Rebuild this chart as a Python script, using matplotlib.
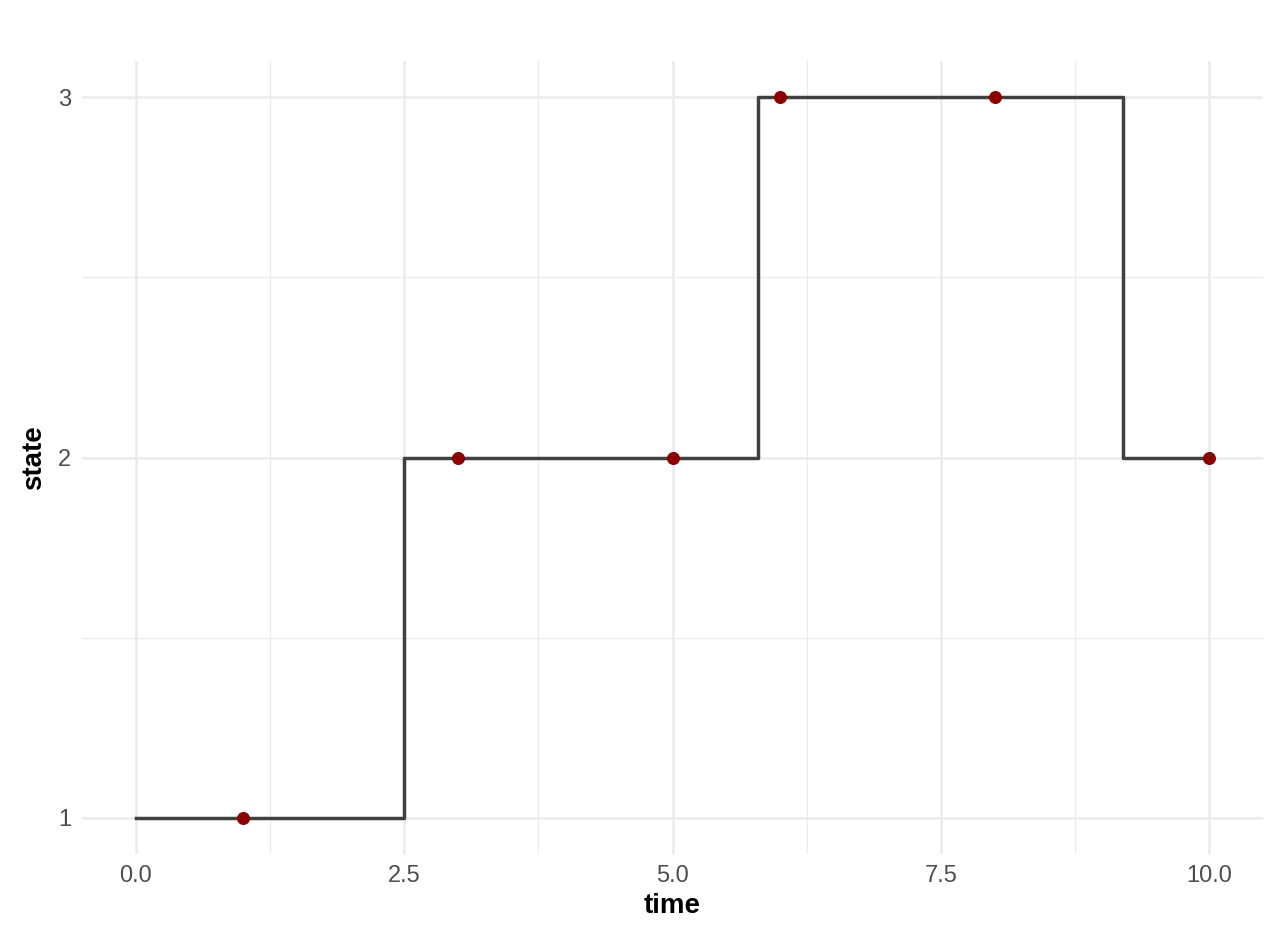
import matplotlib
matplotlib.use("Agg")
import matplotlib.pyplot as plt

step_time = [0, 2.5, 5.8, 9.2, 10]
step_state = [1, 2, 3, 2, 2]
obs_time = [1, 3, 5, 6, 8, 10]
obs_state = [1, 2, 2, 3, 3, 2]

plt.rcParams['font.family'] = ['Liberation Sans', 'DejaVu Sans']
fig = plt.figure(figsize=(12.75, 9.48), dpi=100)
W, H = 1275, 948
ax = fig.add_axes([82/W, 1-854/H, (1263-82)/W, (854-61)/H])
ax.step(step_time, step_state, where='post', color='#404040', lw=2.5, zorder=3)
ax.scatter(obs_time, obs_state, color='#8B0000', s=70, zorder=4)
ax.set_xlim(-0.5, 10.5)
ax.set_ylim(0.9, 3.1)
ax.set_xticks([0, 2.5, 5, 7.5, 10])
ax.set_xticklabels(['0.0', '2.5', '5.0', '7.5', '10.0'])
ax.set_xticks([1.25, 3.75, 6.25, 8.75], minor=True)
ax.set_yticks([1, 2, 3])
ax.set_yticks([1.5, 2.5], minor=True)
ax.grid(which='major', color='#EBEBEB', lw=1.8)
ax.grid(which='minor', color='#EBEBEB', lw=0.9)
ax.set_axisbelow(True)
for s in ax.spines.values():
    s.set_visible(False)
ax.tick_params(which='both', length=0, labelsize=17, colors='#4D4D4D', pad=8)
ax.set_xlabel('time', fontsize=20, fontweight='bold', labelpad=4)
ax.set_ylabel('state', fontsize=20, fontweight='bold', labelpad=8)
fig.savefig('out.png', dpi=100)
